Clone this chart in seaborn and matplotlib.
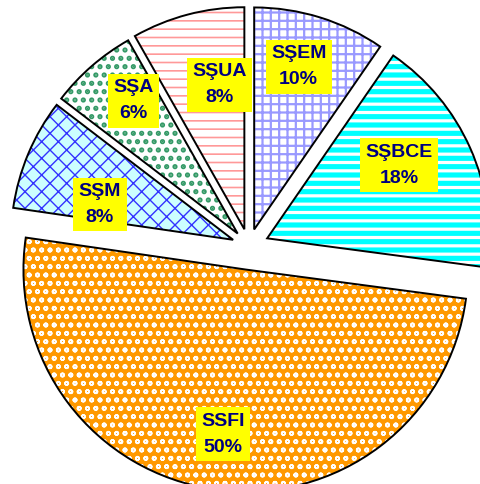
import numpy as np
import matplotlib
matplotlib.use("Agg")
import matplotlib.pyplot as plt
import matplotlib.patches as mpatches
import seaborn as sns

# paylar (yuzde)
segments = ["SŞEM", "SŞBCE", "SSFI", "SŞM", "SŞA", "SŞUA"]
shares = [9.6, 17.5, 50.2, 8.1, 6.4, 8.2]

# dilim stilleri
face_colors = ["#FFFFFF", "#00FFFF", "#FF9900", "#CCFFFF", "#FFFFFF", "#FFFFFF"]
hatch_colors = ["#9999FF", "#FFFFFF", "#FFFFFF", "#3333FF", "#339966", "#FF9999"]
hatches = ["++", "--", "oo", "xx", "..", "--"]
hatch_lw = [1.6, 2.3, 1.2, 1.0, 2.5, 1.2]
explode = [0.08, 0.09, 0.105, 0.077, 0.077, 0.08]

# etiket yerleri: yaricap orani ve aci kaymasi (derece)
label_r = [0.76, 0.68, 0.75, 0.62, 0.76, 0.66]
label_da = [2, 5, 0, 8, -3, -5]

sns.set_theme(style="white")
plt.rcParams["font.family"] = ["Liberation Sans", "DejaVu Sans"]
plt.rcParams["hatch.linewidth"] = 1.2

fig = plt.figure(figsize=(4.8, 4.84), dpi=100)
ax = fig.add_axes([0, 0, 1, 1])

wedges, _ = ax.pie(shares, startangle=90, counterclock=False, explode=explode,
                   colors=face_colors, wedgeprops=dict(edgecolor="none", linewidth=0))

for i, w in enumerate(wedges):
    hp = mpatches.Wedge(w.center, w.r, w.theta1, w.theta2, facecolor="none",
                        edgecolor=hatch_colors[i], linewidth=0, hatch=hatches[i])
    if hasattr(hp, "set_hatch_linewidth"):
        hp.set_hatch_linewidth(hatch_lw[i])
    ax.add_patch(hp)
    ax.add_patch(mpatches.Wedge(w.center, w.r, w.theta1, w.theta2, fill=False,
                                edgecolor="black", linewidth=1.4))
    mid = np.deg2rad((w.theta1 + w.theta2) / 2 + label_da[i])
    x = w.center[0] + label_r[i] * w.r * np.cos(mid)
    y = w.center[1] + label_r[i] * w.r * np.sin(mid)
    ax.text(x, y, f"{segments[i]}\n{round(shares[i]):.0f}%", ha="center", va="center",
            fontsize=14, fontweight="bold", color="#000080", linespacing=1.7,
            bbox=dict(boxstyle="square,pad=0.28", facecolor="#FFFF00", edgecolor="none"),
            zorder=5)

ax.set_xlim(-1.12, 1.04)
ax.set_ylim(-1.07, 1.11)
ax.set_aspect("auto")
ax.axis("off")

fig.savefig("out.png", dpi=100, facecolor="white")
